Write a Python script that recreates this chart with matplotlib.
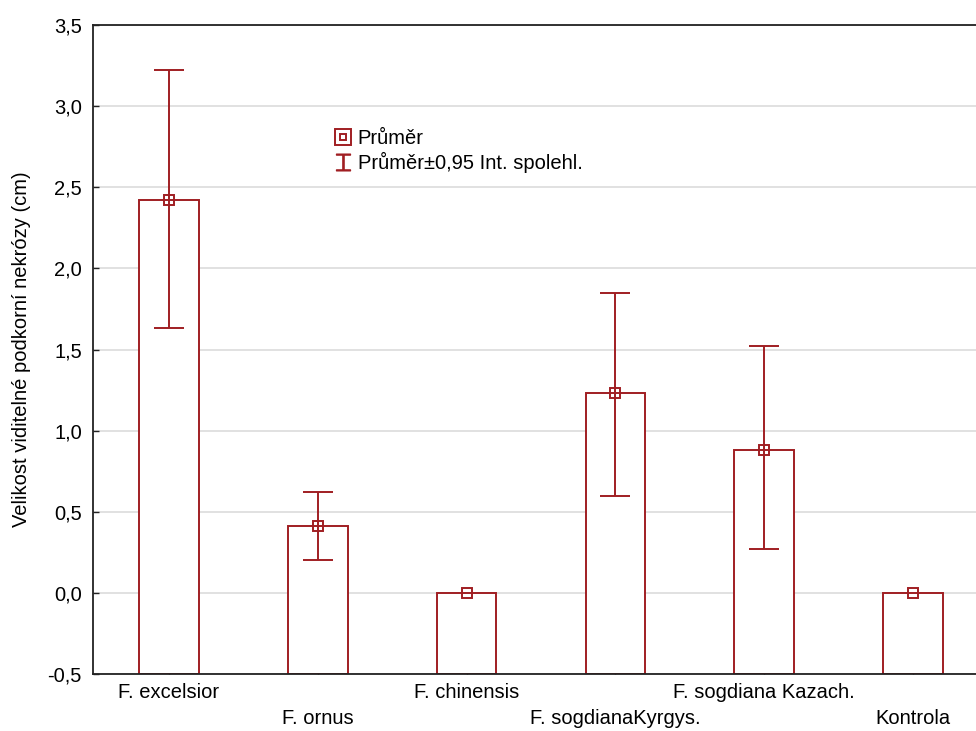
import matplotlib.pyplot as plt
import numpy as np
from matplotlib.lines import Line2D

plt.rcParams["font.family"] = ["Liberation Sans", "DejaVu Sans"]

categories = ["F. excelsior", "F. ornus", "F. chinensis", "F. sogdianaKyrgys.",
              "F. sogdiana Kazach.", "Kontrola"]
means = [2.42, 0.41, 0.0, 1.23, 0.88, 0.0]
ci_low = [1.63, 0.20, 0.0, 0.60, 0.27, 0.0]
ci_high = [3.22, 0.62, 0.0, 1.85, 1.52, 0.0]
yticks = [-0.5, 0.0, 0.5, 1.0, 1.5, 2.0, 2.5, 3.0, 3.5]

RED = "#a01e22"
YMIN, YMAX = -0.5, 3.5
FS = 14.5

fig = plt.figure(figsize=(9.76, 7.31), dpi=100)
ax = fig.add_axes([93 / 976, 57 / 731, 1 - 93 / 976, (674 - 25) / 731])

x = np.arange(len(categories))
means_a = np.array(means)
ax.bar(x, means_a - YMIN, bottom=YMIN, width=0.40, facecolor="white",
       edgecolor=RED, linewidth=1.4, zorder=2)

has_ci = np.array(ci_high) > np.array(ci_low)
yerr = np.vstack([means_a - np.array(ci_low), np.array(ci_high) - means_a])
ax.errorbar(x[has_ci], means_a[has_ci], yerr=yerr[:, has_ci], fmt="none",
            ecolor=RED, elinewidth=1.4, capsize=11, capthick=1.4, zorder=3)
ax.plot(x, means_a, ls="none", marker="s", ms=6.5, mfc="none", mec=RED,
        mew=1.4, zorder=4)

ax.set_xlim(-0.511, 5.423)
ax.set_ylim(YMIN, YMAX)
ax.set_yticks(yticks)
ax.set_yticklabels([f"{v:.1f}".replace(".", ",") for v in yticks], fontsize=FS)
ax.set_xticks(x)
ax.set_xticklabels([])
for i, name in enumerate(categories):
    off = -13 if i % 2 == 0 else -31.7
    ax.annotate(name, (x[i], YMIN), xytext=(0, off), textcoords="offset points",
                ha="center", va="center", fontsize=FS, annotation_clip=False)

ax.tick_params(direction="in", length=4, width=1, color="#222222")
ax.tick_params(axis="y", pad=8)
ax.yaxis.grid(True, color="#dcdcdc", linewidth=1.2, zorder=0)
ax.set_axisbelow(True)
for side in ["left", "bottom", "top"]:
    ax.spines[side].set_linewidth(1.3)
    ax.spines[side].set_color("#222222")
ax.spines["right"].set_visible(False)

ax.set_ylabel("Velikost viditelné podkorní nekrózy (cm)", fontsize=FS, labelpad=12)

mean_handle = (
    Line2D([], [], ls="none", marker="s", ms=11, mfc="none", mec=RED, mew=1.4),
    Line2D([], [], ls="none", marker="s", ms=5, mfc="none", mec=RED, mew=1.4),
)
ci_handle = Line2D([], [], ls="none", marker="$\u2336$", ms=12, color=RED)
ax.legend([mean_handle, ci_handle], ["Průměr", "Průměr±0,95 Int. spolehl."],
          loc="upper left", bbox_to_anchor=(0.254, 0.868), frameon=False,
          fontsize=FS, handlelength=0.8, handletextpad=0.3, labelspacing=0.2)

fig.savefig("out.png", dpi=100)
